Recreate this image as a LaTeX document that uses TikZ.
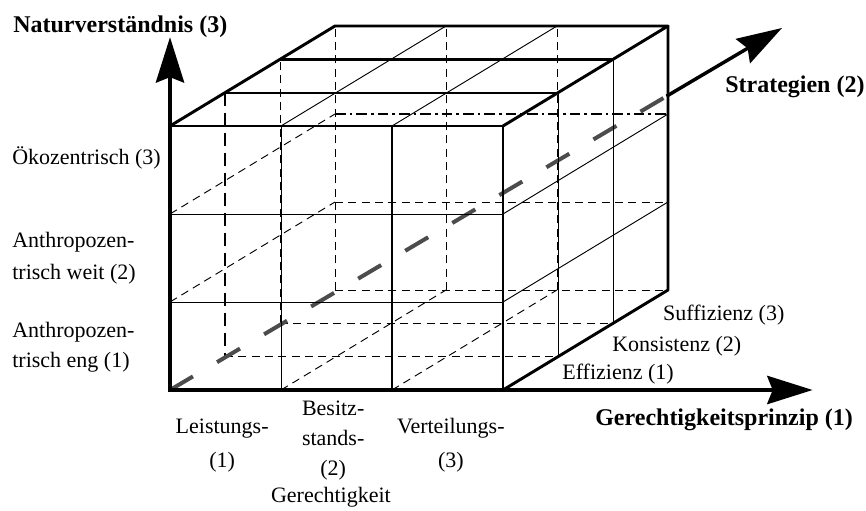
\documentclass[tikz,border=0pt]{standalone}
\usepackage{fontspec}
\setmainfont{Liberation Serif}
\usetikzlibrary{arrows.meta,positioning}
\tikzset{>={Stealth[length=34pt,width=21pt,inset=4pt]}}

\begin{document}
\begin{tikzpicture}[
    x={(83.25pt,0pt)}, y={(0pt,66pt)}, z={(41.25pt,25pt)},
    cubeedge/.style={line width=2.2pt, line join=round},
    gridline/.style={line width=0.7pt},
    midline/.style={line width=1.4pt},
    hidden/.style={line width=0.7pt, dash pattern=on 6pt off 4pt},
    hiddenbold/.style={line width=2pt, dash pattern=on 10pt off 5pt},
    backline/.style={line width=2pt, dash pattern=on 8pt off 3pt on 2pt off 3pt},
    stratdash/.style={line width=3pt, black!70, dash pattern=on 20pt off 21pt},
    axisarrow/.style={line width=3.6pt, line cap=rect, ->},
    lbl/.style={font=\fontsize{16.5}{22.5}\selectfont, inner sep=0pt},
    axistitle/.style={font=\fontsize{18}{21}\selectfont\bfseries, inner sep=0pt}
]
    \useasboundingbox (-127.5pt,-90pt) rectangle (522pt,292.5pt);

    \coordinate (origin) at (0,0,0);
    \coordinate (ytip) at (0,4.01);
    \coordinate (xtip) at (5.79,0);
    \coordinate (exit) at (4.486,3.348);
    \coordinate (stip) at (5.514,4.114);

    % hidden lines
    \draw[hidden] (0,0,3) -- (0,3,3);
    \draw[hidden] (1,0,3) -- (1,3,3);
    \draw[hidden] (2,0,3) -- (2,3,3);
    \draw[hidden] (0,0,3) -- (3,0,3);
    \draw[hidden] (0,1,3) -- (3,1,3);
    \draw[hidden] (0,0,1) -- (3,0,1);
    \draw[hidden] (0,0,2) -- (3,0,2);
    \draw[hidden] (1,0,0) -- (1,0,3);
    \draw[hidden] (2,0,0) -- (2,0,3);
    \draw[hidden] (0,1,0) -- (0,1,3);
    \draw[hidden] (0,2,0) -- (0,2,3);
    \draw[hidden] (0,0,2) -- (0,3,2);
    \draw[hiddenbold] (0,3,1) -- (0,0,1);
    \draw[backline] (0,2,3) -- (3,2,3);

    \draw[stratdash] (origin) -- (exit);

    % visible grid
    \draw[gridline] (1,0,0) -- (1,3,0);
    \draw[gridline] (0,1,0) -- (3,1,0);
    \draw[gridline] (0,2,0) -- (3,2,0);
    \draw[gridline] (1,3,0) -- (1,3,3);
    \draw[gridline] (2,3,0) -- (2,3,3);
    \draw[gridline] (3,0,1) -- (3,3,1);
    \draw[gridline] (3,0,2) -- (3,3,2);
    \draw[gridline] (3,1,0) -- (3,1,3);
    \draw[gridline] (3,2,0) -- (3,2,3);
    \draw[midline] (0,3,1) -- (3,3,1);

    % cube edges
    \draw[cubeedge] (0,3,0) -- (3,3,0) -- (3,0,0);
    \draw[cubeedge] (0,3,0) -- (0,3,3) -- (3,3,3) -- (3,3,0);
    \draw[cubeedge] (3,3,3) -- (3,0,3) -- (3,0,0);
    \draw[cubeedge] (2,0,0) -- (2,3,0);
    \draw[cubeedge] (0,3,2) -- (3,3,2);

    % axes
    \draw[axisarrow] (origin) -- (ytip);
    \draw[axisarrow] (origin) -- (xtip);
    \draw[axisarrow, line width=2.6pt] (exit) -- (stip);

    \node[axistitle, anchor=base west] (natur) at (-1.414,4.057) {Naturverständnis (3)};
    \node[axistitle, anchor=base west] (strat) at (5.0,3.375) {Strategien (2)};
    \node[axistitle, anchor=base west] (prinzip) at (3.829,-0.398) {Gerechtigkeitsprinzip (1)};

    \node[lbl, anchor=base west] (oeko) at (-1.423,2.557) {Ökozentrisch (3)};
    \node[lbl, anchor=base west, align=left] (weit) at (-1.423,1.261) {Anthropozen-\\[1pt]trisch weit (2)};
    \node[lbl, anchor=base west, align=left] (eng) at (-1.423,0.25) {Anthropozen-\\trisch eng (1)};

    \node[lbl, anchor=base, align=center] (leist) at (0.47,-0.886) {Leistungs-\\[3pt](1)};
    \node[lbl, anchor=base, align=center] (besitz) at (1.47,-0.966) {Besitz-\\stands-\\(2)};
    \node[lbl, anchor=base, align=center] (vert) at (2.53,-0.886) {Verteilungs-\\[3pt](3)};
    \node[lbl, anchor=base] (gerecht) at (1.45,-1.284) {Gerechtigkeit};

    \node[lbl, anchor=base west] (suff) at (4.441,0.795) {Suffizienz (3)};
    \node[lbl, anchor=base west] (kons) at (3.982,0.443) {Konsistenz (2)};
    \node[lbl, anchor=base west] (eff) at (3.532,0.114) {Effizienz (1)};
\end{tikzpicture}
\end{document}
